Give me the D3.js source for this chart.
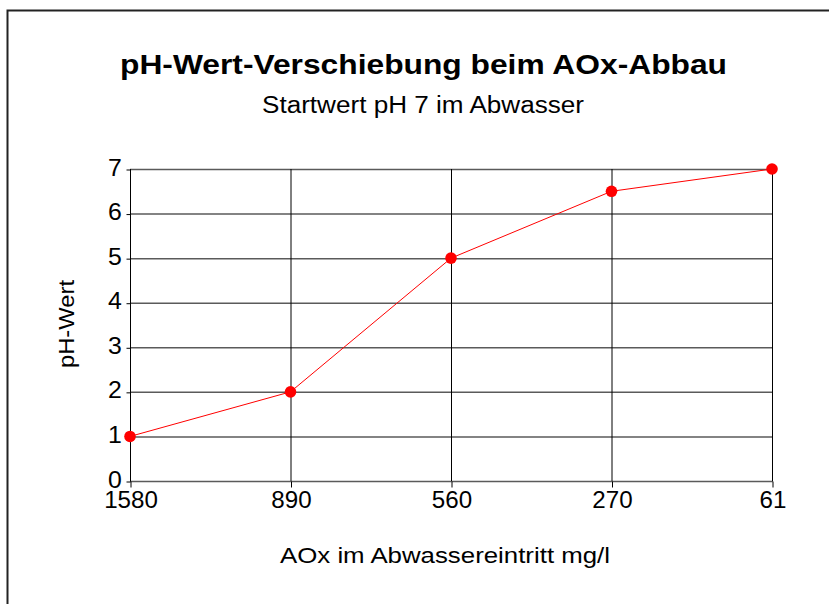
<!DOCTYPE html>
<html><head><meta charset="utf-8">
<script src="https://cdn.jsdelivr.net/npm/d3@7"></script>
<style>body{margin:0;background:#fff}svg{display:block}text{font-family:"Liberation Sans",Arial,sans-serif}</style>
</head><body><svg id="c" width="829" height="604"></svg>
<script>
const categories = ["1580","890","560","270","61"];
const phValues = [1, 2, 5, 6.5, 7];
const yTicks = [0,1,2,3,4,5,6,7];
const title = "pH-Wert-Verschiebung beim AOx-Abbau";
const subtitle = "Startwert pH 7 im Abwasser";
const xTitle = "AOx im Abwassereintritt mg/l";
const yTitle = "pH-Wert";

(function(){
const svg = d3.select("#c");
svg.append("rect").attr("x",7.5).attr("y",10.5).attr("width",840).attr("height",620)
  .attr("fill","#fff").attr("stroke","#222").attr("stroke-width",2);

const pL=130, pR=772, pT=169, pB=481;
const x = d3.scalePoint().domain(categories).range([pL,pR]);
const y = d3.scaleLinear().domain([0,7]).range([pB,pT]);

svg.append("g").selectAll("line").data(yTicks).join("line")
  .attr("x1",pL).attr("x2",pR+1).attr("y1",d=>y(d)+0.5).attr("y2",d=>y(d)+0.5)
  .attr("stroke","#5a5a5a").attr("stroke-width",1.5);
svg.append("g").selectAll("line").data(categories).join("line")
  .attr("x1",d=>x(d)+0.5).attr("x2",d=>x(d)+0.5).attr("y1",pT).attr("y2",pB)
  .attr("stroke","#000").attr("stroke-width",1);

const yAxis = d3.axisLeft(y).tickValues(yTicks).tickSize(4).tickPadding(4).tickFormat(d3.format("d"));
const gy = svg.append("g").attr("transform",`translate(${pL+0.5},0.5)`).call(yAxis);
gy.select(".domain").attr("d",`M0,${pT}V${pB}`);
gy.selectAll(".tick line").attr("stroke","#000");
gy.selectAll("text").attr("font-size",23).attr("fill","#000").attr("dy","0.24em")
  .attr("transform","scale(1.08,1)");

const xAxis = d3.axisBottom(x).tickSize(6).tickPadding(2);
const gx = svg.append("g").attr("transform",`translate(0.5,${pB+0.5})`).call(xAxis);
gx.select(".domain").remove();
gx.selectAll("text").attr("font-size",23).attr("fill","#000").attr("y",10).attr("dy","0.71em")
  .attr("transform","scale(1.05,1)");

const line = d3.line().x((d,i)=>x(categories[i])).y(d=>y(d));
svg.append("path").datum(phValues).attr("d",line).attr("fill","none").attr("stroke","#ff0000").attr("stroke-width",1);
svg.append("g").selectAll("circle").data(phValues).join("circle")
  .attr("cx",(d,i)=>x(categories[i])).attr("cy",d=>y(d)).attr("r",5.8).attr("fill","#ff0000");

svg.append("text").attr("x",120).attr("y",74)
  .attr("font-size",27).attr("font-weight","bold")
  .attr("textLength",607).attr("lengthAdjust","spacingAndGlyphs").text(title);
svg.append("text").attr("x",262).attr("y",113)
  .attr("font-size",23)
  .attr("textLength",322).attr("lengthAdjust","spacingAndGlyphs").text(subtitle);
svg.append("text").attr("x",280).attr("y",563)
  .attr("font-size",22)
  .attr("textLength",330).attr("lengthAdjust","spacingAndGlyphs").text(xTitle);
svg.append("text").attr("transform","translate(74,368) rotate(-90)")
  .attr("font-size",22)
  .attr("textLength",88).attr("lengthAdjust","spacingAndGlyphs").text(yTitle);
})();
</script></body></html>
